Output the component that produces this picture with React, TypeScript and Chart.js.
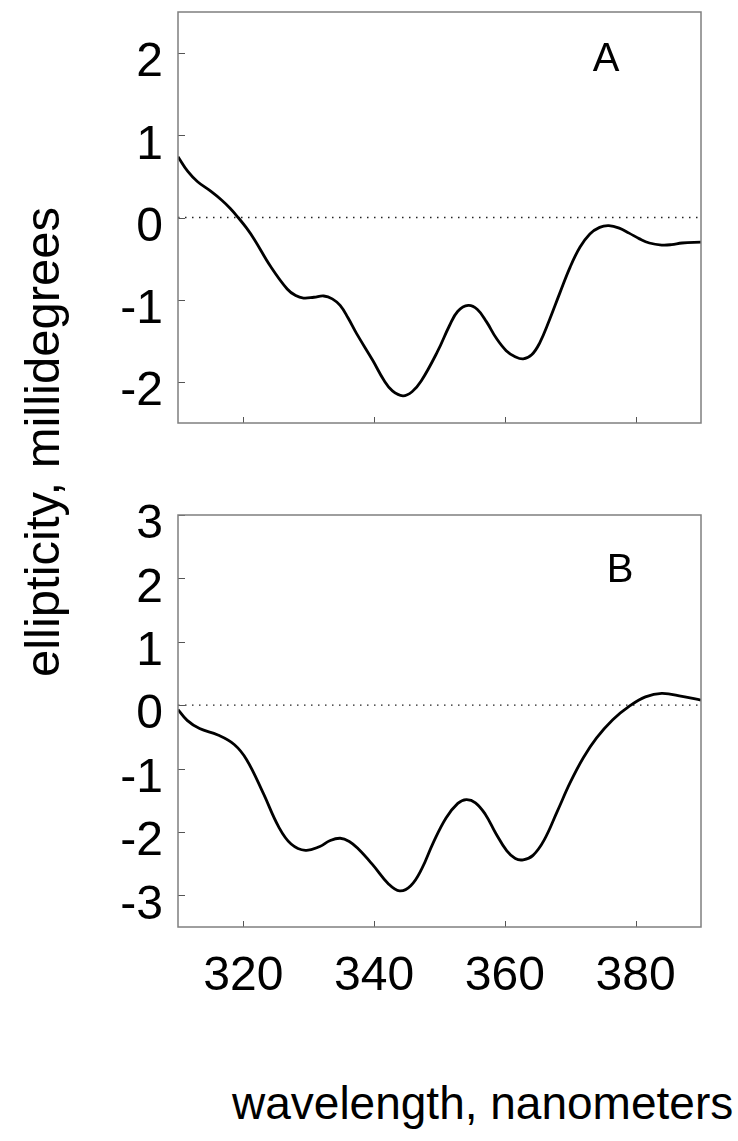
import React, { useEffect, useRef } from "react";
import { Chart, registerables } from "chart.js";
Chart.register(...registerables);

// Panel A data (wavelength nm, ellipticity mdeg)
const wavelengthA = [310, 311.5, 313.0, 315.0, 316.7, 318.0, 319.2, 320.5, 321.7, 324.2, 326.7, 328.0, 329.2, 330.8, 332.3, 333.6, 334.8, 336.0, 337.3, 339.8, 341.5, 342.8, 344.4, 345.8, 347.2, 349.7, 351.5, 352.8, 354.4, 355.8, 357.2, 358.7, 360.2, 361.5, 362.8, 364.1, 365.3, 366.8, 368.4, 370.0, 371.5, 373.0, 374.5, 375.9, 377.5, 379.0, 380.6, 382.1, 384.0, 385.5, 387.1, 390];
const ellipticityA = [0.74, 0.56, 0.435, 0.32, 0.21, 0.11, 0.0, -0.13, -0.27, -0.6, -0.87, -0.95, -0.98, -0.97, -0.955, -0.99, -1.07, -1.22, -1.41, -1.74, -1.98, -2.11, -2.17, -2.12, -1.99, -1.63, -1.32, -1.14, -1.07, -1.12, -1.27, -1.47, -1.62, -1.69, -1.72, -1.67, -1.53, -1.25, -0.92, -0.6, -0.36, -0.2, -0.12, -0.1, -0.13, -0.19, -0.26, -0.31, -0.335, -0.33, -0.31, -0.3];

// Panel B data
const wavelengthB = [310, 311.4, 313.3, 316.1, 318.6, 320.5, 323.0, 325.4, 327.3, 329.5, 331.7, 333.2, 334.8, 336.2, 337.6, 339.8, 342.2, 343.9, 345.6, 347.3, 349.0, 351.0, 352.8, 354.1, 355.5, 357.0, 358.6, 360.3, 361.6, 362.8, 364.3, 366.0, 368.0, 370.0, 372.0, 374.0, 376.5, 379.0, 381.5, 384.0, 387.1, 390];
const ellipticityB = [-0.07, -0.24, -0.37, -0.47, -0.62, -0.86, -1.38, -1.92, -2.19, -2.29, -2.23, -2.14, -2.1, -2.15, -2.27, -2.52, -2.82, -2.93, -2.85, -2.58, -2.18, -1.78, -1.55, -1.49, -1.54, -1.72, -2.02, -2.3, -2.42, -2.44, -2.37, -2.13, -1.68, -1.22, -0.83, -0.52, -0.23, -0.02, 0.13, 0.185, 0.14, 0.08];

// Zero reference line
const zeroLineX = [310, 390];
const zeroLineY = [0, 0];

// Axis ticks
const xTicks = [320, 340, 360, 380];
const yTicksA = [-2, -1, 0, 1, 2];
const yTicksB = [-3, -2, -1, 0, 1, 2, 3];

const FONT = "'Liberation Sans', Arial, Helvetica, sans-serif";

const framePlugin = {
  id: "panelFrame",
  afterDraw(chart: any, _args: any, opts: any) {
    const { ctx, chartArea } = chart;
    const { left, right, top, bottom } = chartArea;
    ctx.save();
    // inward ticks
    ctx.strokeStyle = "#555";
    ctx.lineWidth = 1;
    const ys = chart.scales.y;
    ys.ticks.forEach((t: any) => {
      const py = Math.round(ys.getPixelForValue(t.value)) + 0.5;
      ctx.beginPath();
      ctx.moveTo(left, py);
      ctx.lineTo(left + 7, py);
      ctx.stroke();
    });
    const xs = chart.scales.x;
    xs.ticks.forEach((t: any) => {
      const px = Math.round(xs.getPixelForValue(t.value)) + 0.5;
      ctx.beginPath();
      ctx.moveTo(px, bottom);
      ctx.lineTo(px, bottom - 6);
      ctx.stroke();
    });
    // frame
    ctx.strokeStyle = "#7f7f7f";
    ctx.lineWidth = 1.5;
    ctx.strokeRect(left, top, right - left, bottom - top);
    // panel letter
    ctx.fillStyle = "#000";
    ctx.font = `40px ${FONT}`;
    ctx.textAlign = "center";
    ctx.textBaseline = "alphabetic";
    ctx.fillText(opts.label, left + opts.dx, top + opts.dy);
    ctx.restore();
  },
};

type PanelProps = {
  xs: number[];
  ys: number[];
  yMin: number;
  yMax: number;
  yTicks: number[];
  showX: boolean;
  width: number;
  height: number;
  padTop: number;
  xAxisHeight: number;
  label: string;
  dx: number;
  dy: number;
};

function Panel(p: PanelProps) {
  const ref = useRef<HTMLCanvasElement | null>(null);
  useEffect(() => {
    if (!ref.current) return;
    const chart = new Chart(ref.current, {
      type: "line",
      data: {
        datasets: [
          {
            data: p.xs.map((x, i) => ({ x, y: p.ys[i] })),
            borderColor: "#000",
            borderWidth: 2.8,
            pointRadius: 0,
            tension: 0.4,
            fill: false,
          },
          {
            data: zeroLineX.map((x, i) => ({ x, y: zeroLineY[i] })),
            borderColor: "#222",
            borderWidth: 1.3,
            borderDash: [1.5, 5.5],
            pointRadius: 0,
            fill: false,
          },
        ],
      },
      options: {
        responsive: false,
        animation: false,
        layout: { padding: { top: p.padTop, right: 37, left: 0, bottom: 0 } },
        plugins: {
          legend: { display: false },
          tooltip: { enabled: false },
          panelFrame: { label: p.label, dx: p.dx, dy: p.dy },
        } as any,
        scales: {
          x: {
            type: "linear",
            min: 310,
            max: 390,
            afterBuildTicks: (s: any) => {
              s.ticks = xTicks.map((v) => ({ value: v }));
            },
            afterFit: (s: any) => {
              s.height = p.xAxisHeight;
              s.paddingLeft = 0;
              s.paddingRight = 0;
              s.paddingTop = 0;
              s.paddingBottom = 0;
            },
            grid: { display: false, drawTicks: false },
            border: { display: false },
            ticks: {
              display: p.showX,
              padding: 21,
              color: "#000",
              font: { family: FONT, size: 48 },
              maxRotation: 0,
              autoSkip: false,
            },
          },
          y: {
            type: "linear",
            min: p.yMin,
            max: p.yMax,
            afterBuildTicks: (s: any) => {
              s.ticks = p.yTicks.map((v) => ({ value: v }));
            },
            afterFit: (s: any) => {
              s.width = 178;
              s.paddingLeft = 0;
              s.paddingRight = 0;
              s.paddingTop = 0;
              s.paddingBottom = 0;
            },
            grid: { display: false, drawTicks: false },
            border: { display: false },
            ticks: {
              padding: 15,
              labelOffset: 10,
              color: "#000",
              font: { family: FONT, size: 48 },
              autoSkip: false,
              callback: (v: any) => String(v),
            },
          },
        },
      },
      plugins: [framePlugin],
    } as any);
    return () => chart.destroy();
  }, []);
  return <canvas ref={ref} width={p.width} height={p.height} style={{ display: "block" }} />;
}

export default function App() {
  return (
    <div style={{ position: "absolute", left: 0, top: 0, width: 738, height: 1141, background: "#fff", overflow: "hidden" }}>
      <div style={{ position: "absolute", left: 0, top: 0 }}>
        <Panel xs={wavelengthA} ys={ellipticityA} yMin={-2.5} yMax={2.5} yTicks={yTicksA} showX={false}
          width={738} height={470} padTop={12} xAxisHeight={47} label="A" dx={428} dy={59} />
      </div>
      <div style={{ position: "absolute", left: 0, top: 470 }}>
        <Panel xs={wavelengthB} ys={ellipticityB} yMin={-3.5} yMax={3} yTicks={yTicksB} showX={true}
          width={738} height={560} padTop={45} xAxisHeight={103} label="B" dx={442} dy={67} />
      </div>
      <div style={{ position: "absolute", left: 42 - 300, top: 442 - 28, width: 600, height: 56, lineHeight: "56px", textAlign: "center", transform: "rotate(-90deg)", fontFamily: FONT, fontSize: 49, color: "#000", whiteSpace: "nowrap" }}>
        ellipticity, millidegrees
      </div>
      <div style={{ position: "absolute", left: 232, top: 1075, lineHeight: "56px", fontFamily: FONT, fontSize: 46, color: "#000", whiteSpace: "nowrap" }}>
        wavelength, nanometers
      </div>
    </div>
  );
}
